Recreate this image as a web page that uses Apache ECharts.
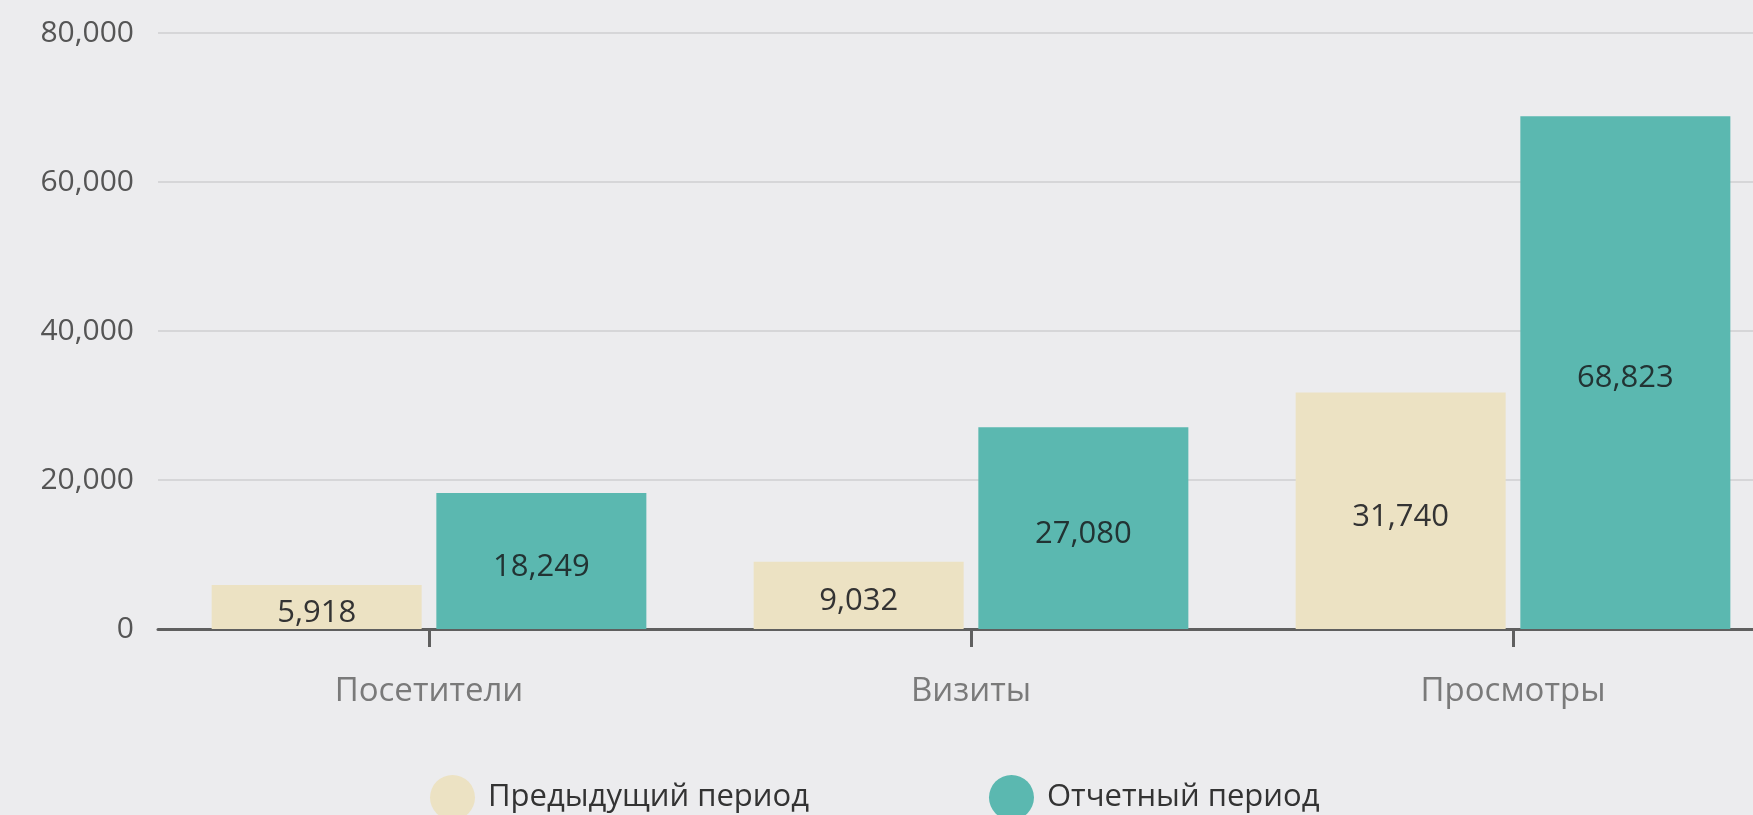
<!DOCTYPE html>
<html>
<head>
<meta charset="utf-8">
<script src="https://cdn.jsdelivr.net/npm/echarts@6/dist/echarts.min.js"></script>
<style>
html,body{margin:0;padding:0;background:#ececee;}
#main{width:1753px;height:815px;}
</style>
</head>
<body>
<div id="main"></div>
<script>
const categories = ['Посетители', 'Визиты', 'Просмотры'];
const seriesNames = ['Предыдущий период', 'Отчетный период'];
const previousValues = [5918, 9032, 31740];
const currentValues = [18249, 27080, 68823];
const yTicks = [0, 20000, 40000, 60000, 80000];

const font = '"Open Sans", "Noto Sans", sans-serif';
const chart = echarts.init(document.getElementById('main'));
const fmt = v => v.toLocaleString('en-US');

chart.setOption({
  backgroundColor: '#ececee',
  animation: false,
  textStyle: { fontFamily: font },
  grid: { left: 158, top: 33, bottom: 186, width: 1626, containLabel: false, outerBoundsMode: 'none' },
  legend: {
    data: seriesNames,
    left: 425,
    top: 770,
    itemWidth: 45,
    itemHeight: 45,
    itemGap: 180,
    icon: 'circle',
    textStyle: { fontSize: 31, color: '#333', fontFamily: font, padding: [0, 0, 0, 8] }
  },
  xAxis: {
    type: 'category',
    data: categories,
    axisLine: { show: true, lineStyle: { color: '#5f5f5f', width: 3 } },
    axisTick: { show: true, interval: 0, alignWithLabel: true, length: 18, lineStyle: { color: '#5f5f5f', width: 3 } },
    axisLabel: { margin: 46, fontSize: 33, color: '#7a7a7a', fontFamily: font }
  },
  yAxis: {
    type: 'value',
    min: yTicks[0],
    max: yTicks[yTicks.length - 1],
    interval: yTicks[1] - yTicks[0],
    axisLine: { show: false },
    axisTick: { show: false },
    splitLine: { lineStyle: { color: '#d6d6d8', width: 2 } },
    axisLabel: { margin: 24, fontSize: 30, color: '#555', fontFamily: font, formatter: v => fmt(v) }
  },
  series: [
    {
      name: seriesNames[0],
      type: 'bar',
      data: previousValues,
      barWidth: 210,
      barGap: '7%',
      itemStyle: { color: '#ece2c3' },
      label: { show: true, position: 'inside', offset: [0, 6], fontSize: 31, color: '#333', fontFamily: font, formatter: p => fmt(p.value) }
    },
    {
      name: seriesNames[1],
      type: 'bar',
      data: currentValues,
      barWidth: 210,
      barGap: '7%',
      itemStyle: { color: '#5bb8b0' },
      label: { show: true, position: 'inside', offset: [0, 6], fontSize: 31, color: '#233', fontFamily: font, formatter: p => fmt(p.value) }
    }
  ]
});
</script>
</body>
</html>
